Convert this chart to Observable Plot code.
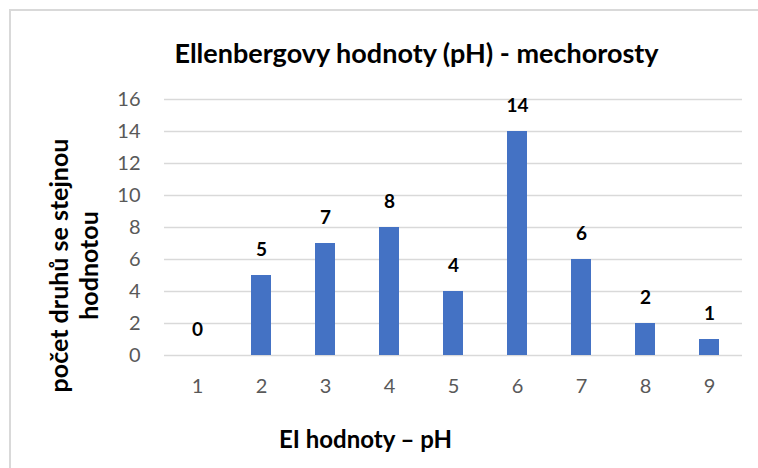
<!DOCTYPE html>
<html>
<head>
<meta charset="utf-8">
<script src="https://cdn.jsdelivr.net/npm/d3@7"></script>
<script src="https://cdn.jsdelivr.net/npm/@observablehq/plot@0.6"></script>
<style>
  html, body { margin: 0; padding: 0; background: #fff; overflow: hidden; }
  #wrap { position: relative; width: 758px; height: 468px; overflow: hidden; background: #fff; }
  #border { position: absolute; left: 9px; top: 9px; width: 760px; height: 470px; border-top: 2px solid #d9d9d9; border-left: 2px solid #d9d9d9; border-right: none; border-bottom: none; box-sizing: border-box; }
  #chart { position: absolute; left: 0; top: 0; }
</style>
</head>
<body>
<div id="wrap"><div id="border"></div><div id="chart"></div></div>
<script>
const categories = ["1", "2", "3", "4", "5", "6", "7", "8", "9"];
const counts = [0, 5, 7, 8, 4, 14, 6, 2, 1];
const yTicks = [0, 2, 4, 6, 8, 10, 12, 14, 16];
const titleText = "Ellenbergovy hodnoty (pH) - mechorosty";
const xTitle = "EI hodnoty – pH";
const yTitle = "počet druhů se stejnou\nhodnotou";

const data = categories.map((c, i) => ({cat: c, value: counts[i]}));
const font = "Lato, 'Open Sans', sans-serif";

const chart = Plot.plot({
  width: 758,
  height: 468,
  marginLeft: 164,
  marginRight: 16,
  marginTop: 99,
  marginBottom: 113,
  style: {fontFamily: font, fontSize: "20px", color: "#595959", background: "transparent", overflow: "visible"},
  x: {domain: categories, paddingInner: 0.69, paddingOuter: 0.345, align: 0.5, tickSize: 0, tickPadding: 23, label: null},
  y: {domain: [0, 16], ticks: yTicks, tickSize: 0, tickPadding: 24, label: null},
  marks: [
    Plot.ruleY(yTicks, {y: d => d, stroke: "#d9d9d9", strokeWidth: 1.5}),
    Plot.barY(data, {x: "cat", y: "value", fill: "#4472C4"}),
    Plot.text(data, {x: "cat", y: "value", text: d => String(d.value), dy: -26, fill: "#000", fontWeight: "bold", fontSize: 19}),
    Plot.text([titleText], {frameAnchor: "top-left", dx: 252, dy: -37, lineAnchor: "bottom", textAnchor: "middle", fill: "#000", fontWeight: "bold", fontSize: 27}),
    Plot.text([xTitle], {frameAnchor: "bottom-left", dx: 201, dy: 92, lineAnchor: "bottom", textAnchor: "middle", fill: "#000", fontWeight: "bold", fontSize: 24}),
    Plot.text([yTitle], {frameAnchor: "left", dx: -91, dy: 38, rotate: -90, lineAnchor: "middle", textAnchor: "middle", fill: "#000", fontWeight: "bold", fontSize: 25, lineHeight: 1.2})
  ]
});
document.getElementById("chart").appendChild(chart);
</script>
</body>
</html>
